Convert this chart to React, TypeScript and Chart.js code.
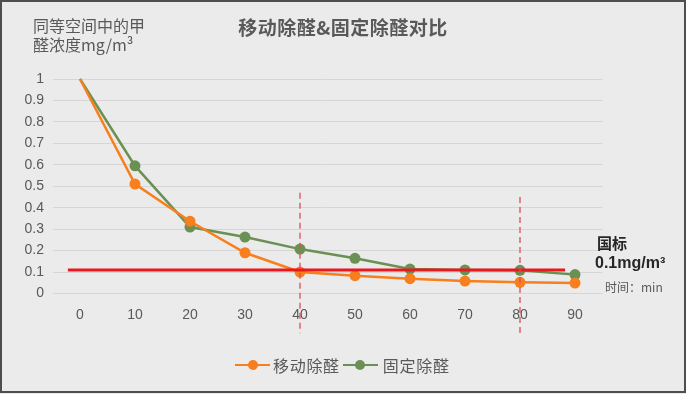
import React, { useEffect, useRef } from "react";
import { Chart, registerables } from "chart.js";

Chart.register(...registerables);

const xLabels = ["0", "10", "20", "30", "40", "50", "60", "70", "80", "90"];
const yTickLabels = ["0", "0.1", "0.2", "0.3", "0.4", "0.5", "0.6", "0.7", "0.8", "0.9", "1"];
const mobileValues = [1, 0.51, 0.337, 0.19, 0.1, 0.083, 0.069, 0.058, 0.052, 0.049];
const fixedValues = [1, 0.595, 0.31, 0.263, 0.207, 0.164, 0.114, 0.11, 0.108, 0.088];
const standardValue = 0.11;
const standardRange = [-0.22, 8.82];
const markerXs = [4, 8];
const markerTops = [0.47, 0.45];
const markerBottom = -0.185;

const ORANGE = "#F77F1E";
const GREEN = "#6A9153";
const RED = "#E8191E";
const TEXT = "#595959";
const CJK = '"Noto Sans CJK SC", "Liberation Sans", sans-serif';

const dashedPlugin = {
  id: "dashedMarkers",
  afterDatasetsDraw(chart: any) {
    const { ctx, scales } = chart;
    const xs = scales.x;
    const ys = scales.y;
    ctx.save();
    ctx.strokeStyle = "#DC4E5A";
    ctx.lineWidth = 1.3;
    ctx.setLineDash([6, 4]);
    markerXs.forEach((mx, i) => {
      const px = xs.getPixelForValue(mx);
      ctx.beginPath();
      ctx.moveTo(px, ys.getPixelForValue(markerTops[i]));
      ctx.lineTo(px, ys.getPixelForValue(markerBottom));
      ctx.stroke();
    });
    ctx.restore();
  },
};

export default function App() {
  const ref = useRef<HTMLCanvasElement | null>(null);

  useEffect(() => {
    if (!ref.current) return;
    const radii = mobileValues.map((_, i) => (i === 0 ? 0 : 5.5));
    const chart = new Chart(ref.current, {
      type: "line",
      data: {
        datasets: [
          {
            label: "国标",
            data: standardRange.map((x) => ({ x, y: standardValue })),
            borderColor: RED,
            backgroundColor: RED,
            borderWidth: 3,
            pointRadius: 0,
            order: 0,
          },
          {
            label: "固定除醛",
            data: fixedValues.map((y, i) => ({ x: i, y })),
            borderColor: GREEN,
            backgroundColor: GREEN,
            pointBackgroundColor: GREEN,
            borderWidth: 2.5,
            pointRadius: radii,
            pointBorderWidth: 0,
            order: 2,
          },
          {
            label: "移动除醛",
            data: mobileValues.map((y, i) => ({ x: i, y })),
            borderColor: ORANGE,
            backgroundColor: ORANGE,
            pointBackgroundColor: ORANGE,
            borderWidth: 2.5,
            pointRadius: radii,
            pointBorderWidth: 0,
            order: 1,
          },
        ],
      },
      options: {
        animation: false,
        responsive: false,
        devicePixelRatio: 1,
        clip: false as any,
        layout: { padding: { top: 79, right: 83.5, left: 0, bottom: 0 } },
        plugins: { legend: { display: false }, title: { display: false }, tooltip: { enabled: false } },
        scales: {
          x: {
            type: "linear",
            min: -0.5,
            max: 9.5,
            grid: { display: false, drawTicks: false },
            border: { display: false },
            afterBuildTicks: (s: any) => {
              s.ticks = xLabels.map((_, i) => ({ value: i }));
            },
            afterFit: (s: any) => {
              s.height = 100.5;
            },
            ticks: {
              padding: 13,
              color: TEXT,
              font: { family: '"Liberation Sans", Arial, sans-serif', size: 14 },
              callback: (v: any) => xLabels[Math.round(v)] ?? "",
              maxRotation: 0,
              autoSkip: false,
            },
          },
          y: {
            min: 0,
            max: 1,
            grid: { color: "#D6D6D6", lineWidth: 1, drawTicks: false },
            border: { display: false },
            afterBuildTicks: (s: any) => {
              s.ticks = yTickLabels.map((_, i) => ({ value: i / 10 }));
            },
            afterFit: (s: any) => {
              s.width = 52.5;
            },
            ticks: {
              padding: 8.5,
              color: TEXT,
              font: { family: '"Liberation Sans", Arial, sans-serif', size: 14 },
              callback: (v: any) => yTickLabels[Math.round(v * 10)] ?? "",
              autoSkip: false,
            },
          },
        },
      },
      plugins: [dashedPlugin],
    } as any);
    return () => chart.destroy();
  }, []);

  const marker = (color: string) => (
    <div style={{ position: "relative", width: 35, height: 24 }}>
      <div style={{ position: "absolute", left: 0, top: 10.75, width: 35, height: 2.5, background: color }} />
      <div
        style={{
          position: "absolute",
          left: 12.5,
          top: 7,
          width: 10,
          height: 10,
          borderRadius: "50%",
          background: color,
        }}
      />
    </div>
  );

  return (
    <div
      style={{
        position: "fixed",
        left: 0,
        top: 0,
        width: 686,
        height: 394,
        background: "#EBEBEB",
        overflow: "hidden",
        fontFamily: CJK,
      }}
    >
      <canvas ref={ref} width={686} height={394} style={{ position: "absolute", left: 0, top: 0, width: 686, height: 394 }} />
      <div
        style={{
          position: "absolute",
          left: 0,
          top: 15,
          width: 686,
          textAlign: "center",
          lineHeight: "24px",
          fontSize: 19,
          fontWeight: 700,
          letterSpacing: 0.5,
          color: TEXT,
        }}
      >
        移动除醛&amp;固定除醛对比
      </div>
      <div
        style={{
          position: "absolute",
          left: 33,
          top: 15.5,
          lineHeight: "19px",
          fontSize: 16,
          color: TEXT,
          whiteSpace: "nowrap",
        }}
      >
        同等空间中的甲
        <br />
        醛浓度mg/m³
      </div>
      <div style={{ position: "absolute", left: 597, top: 233, lineHeight: "20px", fontSize: 15, fontWeight: 700, color: "#262626" }}>
        国标
      </div>
      <div
        style={{
          position: "absolute",
          left: 595,
          top: 253,
          lineHeight: "20px",
          fontSize: 16,
          fontWeight: 700,
          color: "#262626",
          fontFamily: '"Liberation Sans", Arial, sans-serif',
          whiteSpace: "nowrap",
        }}
      >
        0.1mg/m³
      </div>
      <div style={{ position: "absolute", left: 605, top: 279, lineHeight: "16px", fontSize: 12, color: TEXT, whiteSpace: "nowrap" }}>
        时间：min
      </div>
      <div
        style={{
          position: "absolute",
          left: 235,
          top: 353,
          height: 24,
          display: "flex",
          alignItems: "center",
          fontSize: 16,
          letterSpacing: 0.7,
          color: TEXT,
          whiteSpace: "nowrap",
        }}
      >
        {marker(ORANGE)}
        <span style={{ marginLeft: 3, lineHeight: "24px" }}>移动除醛</span>
        <div style={{ marginLeft: 3 }}>{marker(GREEN)}</div>
        <span style={{ marginLeft: 5, lineHeight: "24px" }}>固定除醛</span>
      </div>
      <div
        style={{
          position: "absolute",
          left: 0,
          top: 0,
          width: 686,
          height: 393,
          boxSizing: "border-box",
          border: "2px solid #4E4E4E",
          pointerEvents: "none",
        }}
      />
    </div>
  );
}
